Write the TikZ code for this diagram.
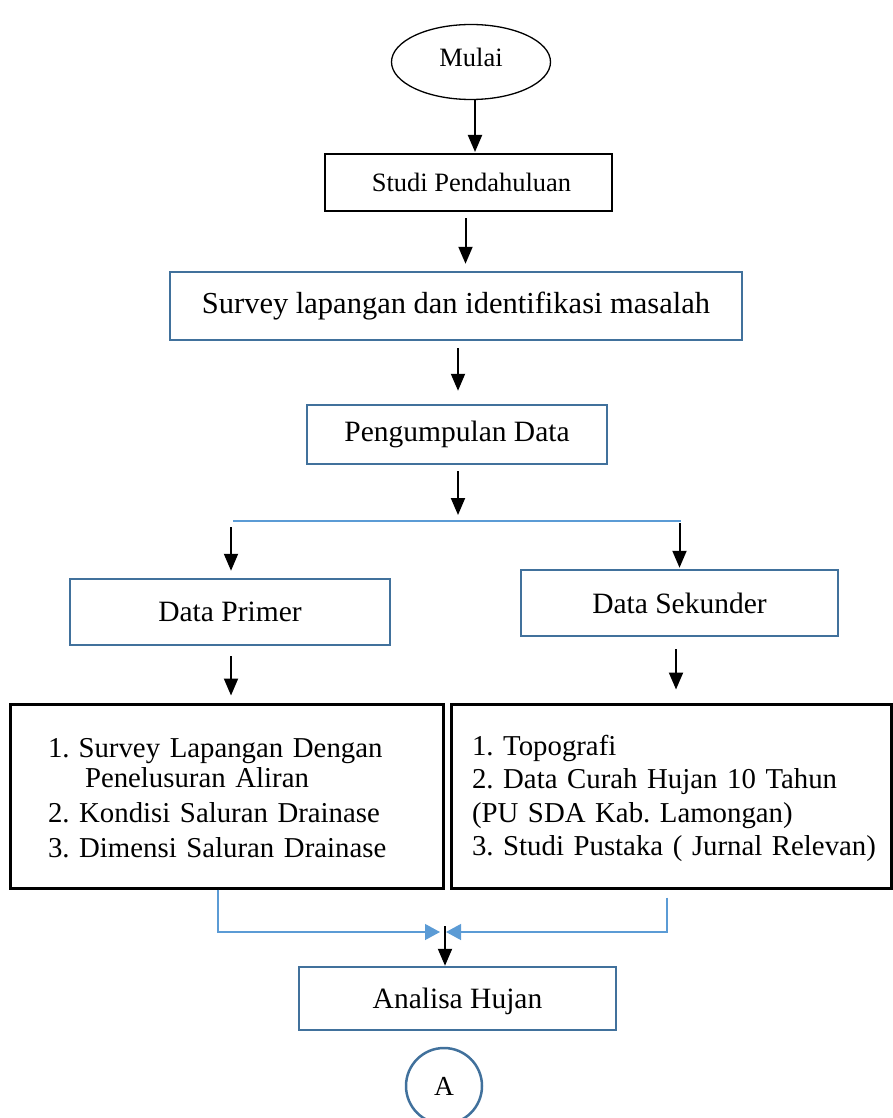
\documentclass[tikz,border=0pt]{standalone}
\usepackage{fontspec}
\setmainfont{Liberation Serif}
\usepackage{tikz}
\usetikzlibrary{arrows.meta,positioning,shapes.geometric}
\definecolor{boxblue}{RGB}{65,113,156}
\definecolor{lineblue}{RGB}{91,155,213}
\newcommand{\bigtxt}{\fontsize{29.5}{34.5}\selectfont\frenchspacing}
\newcommand{\listtxt}{\fontsize{28.8}{35}\selectfont\frenchspacing}
\newcommand{\midtxt}{\fontsize{26.5}{30}\selectfont}

\begin{document}
\begin{tikzpicture}[
  x=1pt, y=-1pt,
  box/.style={draw, line width=2pt, inner sep=0pt, align=center, font=\bigtxt},
  bluebox/.style={box, draw=boxblue, line width=2.5pt},
  listbox/.style={draw, line width=3pt, align=left, font=\listtxt},
  flow/.style={-{Triangle[length=17pt,width=14pt]}, line width=2pt},
  split/.style={draw=lineblue, line width=1.2pt},
  merge/.style={split, -{Triangle[length=15pt,width=16pt]}, color=lineblue}
]
\useasboundingbox (0,0) rectangle (893,1118);

% start
\node[draw, ellipse, line width=1.3pt, minimum width=159pt, minimum height=75pt,
  inner sep=0pt, font=\midtxt] (mulai) at (471,62) {\raisebox{9pt}{Mulai}};
\node[box, font=\midtxt, minimum width=287pt, minimum height=57pt] (studi)
  at (468.5,182.5) {\hspace*{6pt}Studi Pendahuluan};
\node[bluebox, font=\fontsize{30.5}{35}\selectfont, minimum width=572pt,
  minimum height=68pt] (survey) at (456,306)
  {Survey lapangan dan identifikasi masalah};
\node[bluebox, minimum width=300pt, minimum height=59pt] (kumpul) at (457,434.5)
  {Pengumpulan Data};

% main chain
\draw[flow, shorten >=1pt] ([xshift=4pt]mulai.south) -- ([xshift=4pt]mulai.south |- studi.north);
\draw[flow, shorten <=6pt, shorten >=7pt] ([xshift=-3pt]studi.south) -- ([xshift=-3pt]studi.south |- survey.north);
\draw[flow, shorten <=7pt, shorten >=13pt] ([xshift=2pt]survey.south) -- ([xshift=2pt]survey.south |- kumpul.north);

% split
\coordinate (splitL) at (233,521);
\coordinate (splitR) at (681,521);
\draw[split] (splitL) -- (splitR);
\draw[flow, shorten <=6pt, shorten >=6pt] ([xshift=1pt]kumpul.south) -- ([xshift=1pt]kumpul.south |- splitL);

% Data Primer / Data Sekunder
\node[bluebox, minimum width=320pt, minimum height=66pt] (primer) at (230,612)
  {Data Primer};
\node[bluebox, minimum width=317pt, minimum height=66pt] (sekunder) at (679.5,603)
  {Data Sekunder};
\draw[flow, shorten <=6pt, shorten >=7pt] ([xshift=1pt]primer.north |- splitL) -- ([xshift=1pt]primer.north);
\draw[flow, shorten <=2pt, shorten >=1pt] (sekunder.north |- splitR) -- (sekunder.north);

% lists
\node[listbox, minimum height=184pt, inner xsep=38pt, text width=357pt] (listP)
  at (226.5,796)
  {\mbox{1.\hspace{9pt}Survey Lapangan Dengan}\\[-5pt]
   \mbox{\hspace*{37pt}Penelusuran Aliran}\\
   \mbox{2. Kondisi Saluran Drainase}\\
   \mbox{3. Dimensi Saluran Drainase}\\[-39pt]\mbox{}};
\node[listbox, minimum height=184pt, inner xsep=21pt, text width=398pt] (listS)
  at (671,796)
  {\mbox{1. Topografi}\\[-1.5pt]
   \mbox{2. Data Curah Hujan 10 Tahun}\\[-1.5pt]
   \mbox{(PU SDA Kab. Lamongan)}\\[-1.5pt]
   \mbox{3. Studi Pustaka ( Jurnal Relevan)}\\[-33.8pt]\mbox{}};
\draw[flow, shorten <=10pt, shorten >=7pt] ([xshift=1pt]primer.south) -- ([xshift=1pt]primer.south |- listP.north);
\draw[flow, shorten <=12pt, shorten >=13pt] ([xshift=-3.5pt]sekunder.south) -- ([xshift=-3.5pt]sekunder.south |- listS.north);

% merge
\coordinate (mergeL) at (218,932);
\coordinate (mergeR) at (667,932);
\coordinate (join) at (443,932);
\draw[merge, shorten >=3pt] (listP.south -| mergeL) -- (mergeL) -- (join);
\draw[merge, shorten >=3pt] (mergeR |- listS.south) ++(0,8) -- (mergeR) -- (join);

% Analisa Hujan
\node[bluebox, minimum width=317pt, minimum height=63pt, text depth=0pt]
  (analisa) at (457.5,998.5) {Analisa Hujan};
\draw[flow, shorten <=-6pt] ([xshift=2pt]join) -- ([xshift=2pt]join |- analisa.north);

% connector A
\node[draw=boxblue, circle, line width=2.5pt, minimum size=76pt, inner sep=0pt,
  font=\fontsize{27.5}{30}\selectfont] (conA) at (444,1086) {\raisebox{-4pt}{A}};
\end{tikzpicture}
\end{document}
